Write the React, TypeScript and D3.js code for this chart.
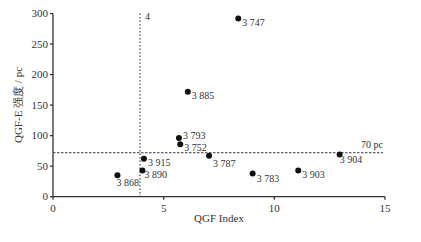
import React from "react";
import * as d3 from "d3";

const ids = ["3 747", "3 885", "3 793", "3 752", "3 915", "3 890", "3 868", "3 787", "3 783", "3 903", "3 904"];
const qgfIndex = [8.37, 6.09, 5.69, 5.75, 4.11, 4.04, 2.91, 7.05, 9.02, 11.08, 12.95];
const intensity = [292, 172, 96, 86, 62, 43, 35, 67, 38, 43, 69];
// label offsets relative to dot (dx, dy baseline)
const labelDx = [4, 4, 4, 4, 4, 2, -1, 4, 4, 4, 0];
const labelDy = [8, 7, 1, 7, 7, 8, 11, 11, 9, 8, 8];
const xTicks = [0, 5, 10, 15];
const yTicks = [0, 50, 100, 150, 200, 250, 300];
const vThreshold = 3.93;
const vLabel = "4";
const hThreshold = 72;
const hLabel = "70 pc";

export default function App() {
  const W = 421, H = 242;
  const x = d3.scaleLinear().domain([0, 15]).range([53, 385]);
  const y = d3.scaleLinear().domain([0, 300]).range([196.7, 13.5]);
  const font = "'Liberation Serif', 'Times New Roman', serif";
  const txt = "#333";
  const axisCol = "#333";
  return (
    <svg width={W} height={H} style={{ position: "absolute", left: 0, top: 0, background: "#fff" }} fontFamily={font}>
      {/* dashed reference lines */}
      <line x1={x(vThreshold)} x2={x(vThreshold)} y1={y(300)} y2={y(0)} stroke="#222" strokeWidth={1} strokeDasharray="1.5,2" />
      <text x={x(vThreshold) + 5} y={20} fontSize={10} fill={txt}>{vLabel}</text>
      <line x1={x(0)} x2={x(15) - 2} y1={y(hThreshold)} y2={y(hThreshold)} stroke="#222" strokeWidth={0.9} strokeDasharray="2.5,1.5" />
      <text x={x(15) - 2} y={y(hThreshold) - 5} fontSize={10} fill={txt} textAnchor="end">{hLabel}</text>
      {/* axes */}
      <line x1={x(0)} x2={x(0)} y1={y(0)} y2={y(300)} stroke={axisCol} strokeWidth={1.3} />
      <line x1={x(0)} x2={x(15)} y1={y(0)} y2={y(0)} stroke={axisCol} strokeWidth={1.3} />
      {yTicks.map((t) => (
        <g key={"y" + t}>
          <line x1={x(0) - 3} x2={x(0)} y1={y(t)} y2={y(t)} stroke={axisCol} strokeWidth={1.3} />
          <text x={x(0) - 5} y={y(t) + 3.5} fontSize={11} fill={txt} textAnchor="end">{t}</text>
        </g>
      ))}
      {xTicks.map((t) => (
        <g key={"x" + t}>
          <line x1={x(t)} x2={x(t)} y1={y(0)} y2={y(0) + 3} stroke={axisCol} strokeWidth={1.3} />
          <text x={x(t)} y={y(0) + 15} fontSize={11} fill={txt} textAnchor="middle">{t}</text>
        </g>
      ))}
      <text x={219} y={222} fontSize={11} fill={txt} textAnchor="middle">QGF Index</text>
      <text transform={`translate(22,105) rotate(-90)`} fontSize={11} fill={txt} textAnchor="middle">QGF-E 强度 / pc</text>
      {/* points */}
      {ids.map((id, i) => (
        <g key={id}>
          <circle cx={x(qgfIndex[i])} cy={y(intensity[i])} r={3} fill="#111" />
          <text x={x(qgfIndex[i]) + labelDx[i]} y={y(intensity[i]) + labelDy[i]} fontSize={10} fill={txt}>{id}</text>
        </g>
      ))}
    </svg>
  );
}
